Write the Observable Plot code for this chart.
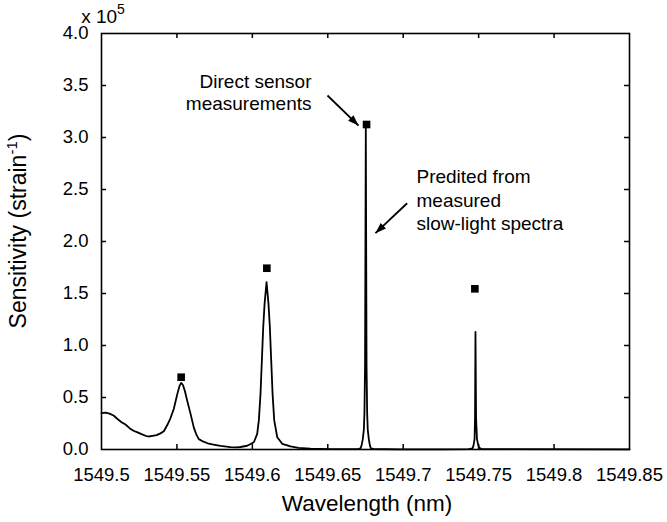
<!DOCTYPE html>
<html><head><meta charset="utf-8">
<script src="https://cdn.jsdelivr.net/npm/d3@7"></script>
<script src="https://cdn.jsdelivr.net/npm/@observablehq/plot@0.6"></script>
<style>body{margin:0;background:#fff}</style>
</head><body><div id="chart"></div>
<script>
// Predicted sensitivity from measured slow-light spectra (x 1e5 strain^-1)
const wavelength = [
  1549.5000,1549.5027,1549.5053,1549.5080,1549.5106,1549.5133,1549.5159,1549.5186,1549.5212,1549.5239,
  1549.5265,1549.5292,1549.5312,1549.5338,1549.5365,1549.5391,1549.5413,1549.5436,1549.5457,1549.5479,
  1549.5502,1549.5517,1549.5528,1549.5540,1549.5553,1549.5568,1549.5590,1549.5612,1549.5630,1549.5645,
  1549.5676,1549.5703,1549.5742,1549.5789,1549.5855,1549.5895,1549.5921,1549.5966,
  1549.6010,1549.6032,1549.6043,1549.6054,1549.6063,1549.6072,1549.6081,1549.6094,1549.6107,1549.6116,
  1549.6125,1549.6134,1549.6145,1549.6165,1549.6198,1549.6253,1549.6306,1549.6385,1549.6518,1549.6651,
  1549.6704,1549.6717,1549.6724,1549.6732,1549.6739,1549.6743,1549.6747,1549.6752,1549.6757,1549.6761,
  1549.6765,1549.6772,1549.6779,1549.6786,1549.6803,1549.6982,1549.7247,
  1549.7433,1549.7459,1549.7466,1549.7473,1549.7476,1549.7479,1549.7483,1549.7489,1549.7496,1549.7502,
  1549.7519,1549.8500
];
const sensitivity = [
  0.350,0.355,0.345,0.327,0.293,0.262,0.240,0.205,0.180,0.165,
  0.148,0.132,0.125,0.132,0.138,0.155,0.175,0.235,0.300,0.390,
  0.530,0.610,0.640,0.620,0.560,0.470,0.345,0.210,0.140,0.100,
  0.075,0.060,0.048,0.035,0.022,0.020,0.024,0.036,
  0.070,0.150,0.280,0.535,0.856,1.176,1.400,1.610,1.400,1.176,
  0.856,0.535,0.280,0.118,0.055,0.030,0.015,0.008,0.004,0.003,
  0.005,0.010,0.040,0.100,0.190,0.350,0.800,3.100,0.800,0.350,
  0.190,0.100,0.040,0.010,0.005,0.002,0.002,
  0.003,0.010,0.040,0.100,0.300,1.130,0.300,0.100,0.050,0.020,
  0.004,0.002
];
// Direct sensor measurements
const measWavelength = [1549.5528, 1549.6096, 1549.6757, 1549.7475];
const measSensitivity = [0.695, 1.743, 3.125, 1.545];

const xTicks = [1549.5, 1549.55, 1549.6, 1549.65, 1549.7, 1549.75, 1549.8, 1549.85];
const yTicks = [0, 0.5, 1, 1.5, 2, 2.5, 3, 3.5, 4];
const xInnerTicks = xTicks.slice(1, -1);
const yInnerTicks = yTicks.slice(1, -1);

// annotations
const noteText = ["Direct sensor\nmeasurements", "Predited from\nmeasured\nslow-light spectra"];
const noteX = [1549.6392, 1549.7088];
const noteY = [3.26, 2.106];
const arrowX1 = [1549.6498, 1549.7026];
const arrowY1 = [3.404, 2.368];
const arrowX2 = [1549.6704, 1549.6816];
const arrowY2 = [3.115, 2.080];

const W = 667, H = 522, mL = 101, mR = 38, mT = 33, mB = 73;
const innerW = W - mL - mR, innerH = H - mT - mB, tk = 5;

const curve = wavelength.map((w, i) => ({w, v: sensitivity[i]}));
const meas = measWavelength.map((w, i) => ({w, v: measSensitivity[i]}));
const arrows = arrowX1.map((x, i) => ({x1: x, y1: arrowY1[i], x2: arrowX2[i], y2: arrowY2[i]}));

const plot = Plot.plot({
  width: W, height: H,
  marginLeft: mL, marginRight: mR, marginTop: mT, marginBottom: mB,
  style: {fontFamily: "'Liberation Sans', Arial, sans-serif", fontSize: "18.5px", background: "white", color: "black"},
  x: {domain: [1549.5, 1549.85], label: null},
  y: {domain: [0, 4], label: null},
  marks: [
    Plot.axisX(xTicks, {tickSize: 0, tickPadding: 18, label: null, fontSize: 18.5, tickFormat: d => String(+d.toFixed(2))}),
    Plot.axisY(yTicks, {tickSize: 0, tickPadding: 13, label: null, fontSize: 18.5, tickFormat: d3.format(".1f")}),
    Plot.tickX(xInnerTicks, {x: d => d, insetTop: innerH - tk, stroke: "black", strokeWidth: 1.5}),
    Plot.tickX(xInnerTicks, {x: d => d, insetBottom: innerH - tk, stroke: "black", strokeWidth: 1.5}),
    Plot.tickY(yInnerTicks, {y: d => d, insetRight: innerW - tk, stroke: "black", strokeWidth: 1.5}),
    Plot.tickY(yInnerTicks, {y: d => d, insetLeft: innerW - tk, stroke: "black", strokeWidth: 1.5}),
    Plot.line(curve, {x: "w", y: "v", stroke: "black", strokeWidth: 1.8}),
    Plot.frame({stroke: "black", strokeWidth: 1.6}),
    Plot.dot(meas, {x: "w", y: "v", symbol: "square", r: 4.3, fill: "black", stroke: "none"}),
    Plot.link(arrows, {x1: "x1", y1: "y1", x2: "x2", y2: "y2", stroke: "black", strokeWidth: 1.8, markerEnd: "arrow"}),
    Plot.text([0], {x: noteX[0], y: noteY[0], text: [noteText[0]], textAnchor: "end", lineAnchor: "bottom", lineHeight: 1.17, fontSize: 19, fill: "black"}),
    Plot.text([0], {x: noteX[1], y: noteY[1], text: [noteText[1]], textAnchor: "start", lineAnchor: "bottom", lineHeight: 1.24, fontSize: 19, fill: "black"})
  ]
});

document.getElementById("chart").appendChild(plot);
const svg = d3.select(plot);
// filled arrow heads
svg.selectAll("marker").attr("overflow", "visible")
  .selectAll("path").attr("d", "M-9,-3.2L0,0L-9,3.2Z").attr("fill", "black").attr("stroke", "none");

const ff = "'Liberation Sans', Arial, sans-serif";
// x 10^5 multiplier
const mult = svg.append("text").attr("x", mL + 2).attr("y", 23).attr("font-family", ff).attr("font-size", 19).attr("fill", "black");
mult.append("tspan").text("x 10");
mult.append("tspan").attr("dy", -9).attr("font-size", 14).text("5");
// x label
svg.append("text").attr("x", mL + innerW / 2 + 2).attr("y", 511).attr("text-anchor", "middle")
  .attr("font-family", ff).attr("font-size", 22.5).attr("fill", "black").text("Wavelength (nm)");
// y label
const yl = svg.append("text").attr("transform", `translate(26,${mT + innerH / 2 - 10}) rotate(-90)`)
  .attr("text-anchor", "middle").attr("font-family", ff).attr("font-size", 23).attr("fill", "black");
yl.append("tspan").text("Sensitivity (strain");
yl.append("tspan").attr("dy", -9).attr("font-size", 15).text("-1");
yl.append("tspan").attr("dy", 9).text(")");
</script>
</body></html>
